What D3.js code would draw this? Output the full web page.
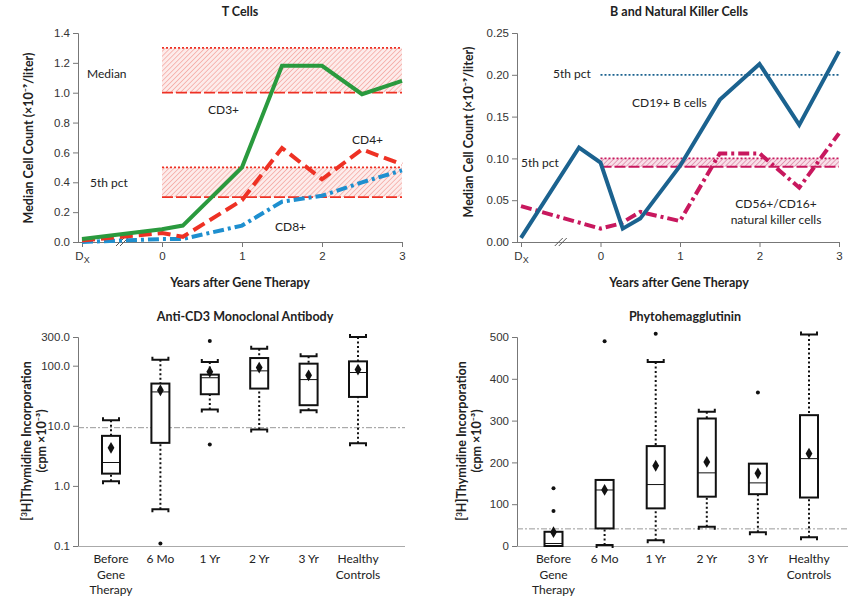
<!DOCTYPE html>
<html>
<head>
<meta charset="utf-8">
<script src="https://cdn.jsdelivr.net/npm/d3@7"></script>
<style>
  body { margin: 0; background: #fff; }
  svg { font-family: Lato, "Open Sans", sans-serif; }
  .title { font-weight: bold; font-size: 12.5px; fill: #222; }
  .axlabel { font-weight: bold; font-size: 12.5px; fill: #222; }
  .note { font-size: 12px; fill: #222; }
  .tick text { font-size: 11.5px; fill: #333; }
</style>
</head>
<body>
<svg id="chart" width="849" height="597"></svg>
<script>
// ---- data ----
// x in years after gene therapy, Dx (diagnosis) plotted at -1
const tYears = [-1, 0, 0.26, 1, 1.5, 2, 2.5, 3];
const cd3 = [0.02, 0.085, 0.11, 0.5, 1.18, 1.18, 0.99, 1.08];
const cd4 = [0.01, 0.06, 0.035, 0.28, 0.63, 0.42, 0.62, 0.52];
const cd8 = [0.0, 0.02, 0.02, 0.11, 0.27, 0.31, 0.40, 0.48];
const tMedianBand = [1.0, 1.3];
const t5thBand = [0.3, 0.5];

const bYears = [-1, -0.27, 0, 0.28, 0.5, 1, 1.5, 2, 2.5, 3];
const cd19 = [0.005, 0.113, 0.095, 0.016, 0.028, 0.091, 0.170, 0.213, 0.140, 0.228];
const nkYears = [-1, 0, 0.25, 0.5, 1, 1.5, 2, 2.5, 3];
const nk = [0.043, 0.016, 0.022, 0.036, 0.025, 0.106, 0.106, 0.065, 0.130];
const b5thLine = 0.20;
const nk5thBand = [0.09, 0.10];

const xTicksTop = [-1, 0, 1, 2, 3];

const boxCats = ["Before Gene Therapy", "6 Mo", "1 Yr", "2 Yr", "3 Yr", "Healthy Controls"];
const catLines = [["Before", "Gene", "Therapy"], ["6 Mo"], ["1 Yr"], ["2 Yr"], ["3 Yr"], ["Healthy", "Controls"]];

// anti-CD3: [whiskerLow, q1, median, q3, whiskerHigh]
const cd3Box = [
  [1.2, 1.6, 2.45, 6.8, 12.4],
  [0.41, 5.2, 36.6, 50.4, 126],
  [18.6, 33.5, 63, 71, 115],
  [8.7, 41.6, 82, 134, 192],
  [18.2, 22, 58.7, 108, 143],
  [5.1, 30.2, 77, 118, 300]
];
const cd3Mean = [4.3, 39, 79, 93, 69, 86];
const cd3Out = [[], [0.11], [257, 4.9], [], [], []];
const cd3Ref = 9.3;
const cd3Ticks = [0.1, 1, 10, 100, 300];

// phytohemagglutinin
const phaBox = [
  [0, 0, 6, 34, 34],
  [2.5, 42, 134, 158, 158],
  [14, 90, 147, 239, 440],
  [46, 118, 175, 305, 321],
  [33, 124, 151, 197, 197],
  [21, 116, 209, 313, 506]
];
const phaMean = [33, 134, 192, 201, 174, 221];
const phaOut = [[138, 84], [490], [508], [], [367], []];
const phaRef = 41;
const phaTicks = [0, 100, 200, 300, 400, 500];

// ---- colours ----
const GREEN = "#2a9a3e", RED = "#ee3124", CD8BLUE = "#1e8fcf";
const BBLUE = "#1b628f", NKPINK = "#c8185e";

const svg = d3.select("#chart");
const defs = svg.append("defs");

function hatch(id, bg, fg) {
  const p = defs.append("pattern")
    .attr("id", id)
    .attr("width", 3.5).attr("height", 3.5)
    .attr("patternUnits", "userSpaceOnUse")
    .attr("patternTransform", "rotate(45)");
  p.append("rect").attr("width", 3.5).attr("height", 3.5).attr("fill", bg);
  p.append("line").attr("x1", 0).attr("y1", 0).attr("x2", 0).attr("y2", 3.5)
    .attr("stroke", fg).attr("stroke-width", 1.4);
}
hatch("hatchRed", "#fdeceb", "#f3a29c");
hatch("hatchPink", "#f8e0e9", "#dd7ea1");

function styleAxis(g) {
  g.selectAll(".domain").attr("stroke", "#777").attr("stroke-width", 1);
  g.selectAll(".tick line").attr("stroke", "#777");
}

function yLabel(x, y, text) {
  svg.append("text").attr("class", "axlabel")
    .attr("transform", "translate(" + x + "," + y + ") rotate(-90)")
    .attr("text-anchor", "middle").text(text);
}

// ---- top line panels ----
function linePanel(opt) {
  const x = d3.scaleLinear().domain([-1, 3]).range(opt.xr);
  const y = d3.scaleLinear().domain(opt.yd).range([242, 33]);

  // y axis
  const ya = svg.append("g").attr("class", "y axis")
    .attr("transform", "translate(" + opt.axisX + ",0)")
    .call(d3.axisLeft(y).tickValues(opt.yTicks).tickFormat(d3.format(opt.fmt)).tickSize(5).tickPadding(3));
  styleAxis(ya);

  // x axis
  const xa = svg.append("g").attr("class", "x axis")
    .attr("transform", "translate(0,242)")
    .call(d3.axisBottom(x).tickValues(xTicksTop).tickSize(5).tickPadding(5)
      .tickFormat(d => d === -1 ? "" : d));
  xa.select(".domain").attr("d", "M" + opt.axisX + ",0.5H" + opt.xr[1]);
  styleAxis(xa);
  xa.selectAll(".tick").filter(d => d === -1).select("text")
    .each(function () {
      const t = d3.select(this);
      t.append("tspan").text("D");
      t.append("tspan").attr("dy", 3).style("font-size", "9px").text("X");
    });

  // axis break marks
  const bx = x(-0.5);
  [-2, 2].forEach(o => {
    svg.append("line")
      .attr("x1", bx + o - 4).attr("y1", 246).attr("x2", bx + o + 4).attr("y2", 238)
      .attr("stroke", "#555").attr("stroke-width", 1);
  });

  svg.append("text").attr("class", "title").attr("x", opt.cx).attr("y", 16)
    .attr("text-anchor", "middle").text(opt.title);
  svg.append("text").attr("class", "axlabel").attr("x", opt.cx).attr("y", 287)
    .attr("text-anchor", "middle").text("Years after Gene Therapy");
  yLabel(opt.labelX, opt.labelY, "Median Cell Count (\u00d710\u207b\u2079/liter)");

  return { x: x, y: y };
}

function band(c, lo, hi, fill, color) {
  svg.append("rect")
    .attr("x", c.x(0)).attr("y", c.y(hi))
    .attr("width", c.x(3) - c.x(0)).attr("height", c.y(lo) - c.y(hi))
    .attr("fill", "url(#" + fill + ")");
  svg.append("line").attr("x1", c.x(0)).attr("x2", c.x(3))
    .attr("y1", c.y(hi)).attr("y2", c.y(hi))
    .attr("stroke", color).attr("stroke-width", 1.8).attr("stroke-dasharray", "2,2");
  svg.append("line").attr("x1", c.x(0)).attr("x2", c.x(3))
    .attr("y1", c.y(lo)).attr("y2", c.y(lo))
    .attr("stroke", color).attr("stroke-width", 1.8).attr("stroke-dasharray", "11,3");
}

function series(c, xs, ys, color, dash) {
  const line = d3.line().x((d, i) => c.x(xs[i])).y(d => c.y(d)).curve(d3.curveLinear);
  svg.append("path").attr("d", line(ys))
    .attr("fill", "none").attr("stroke", color).attr("stroke-width", 4)
    .attr("stroke-linejoin", "miter")
    .attr("stroke-dasharray", dash || null);
}

function note(x, y, text, anchor) {
  svg.append("text").attr("class", "note").attr("x", x).attr("y", y)
    .attr("text-anchor", anchor || "start").text(text);
}

// T cells
const tc = linePanel({
  xr: [82, 402], yd: [0, 1.4], yTicks: d3.range(0, 1.41, 0.2), fmt: ".1f",
  axisX: 78, cx: 240, title: "T Cells", labelX: 33, labelY: 138
});
band(tc, tMedianBand[0], tMedianBand[1], "hatchRed", RED);
band(tc, t5thBand[0], t5thBand[1], "hatchRed", RED);
series(tc, tYears, cd8, CD8BLUE, "11,4,3,4");
series(tc, tYears, cd4, RED, "13,6");
series(tc, tYears, cd3, GREEN);
note(87, 78, "Median");
note(90, 187, "5th pct");
note(208, 114, "CD3+");
note(352, 144, "CD4+");
note(275, 231, "CD8+");

// B and NK cells
const bc = linePanel({
  xr: [521, 839], yd: [0, 0.25], yTicks: d3.range(0, 0.251, 0.05), fmt: ".2f",
  axisX: 517, cx: 679, title: "B and Natural Killer Cells", labelX: 473, labelY: 132
});
band(bc, nk5thBand[0], nk5thBand[1], "hatchPink", NKPINK);
svg.append("line").attr("x1", bc.x(0)).attr("x2", bc.x(3))
  .attr("y1", bc.y(b5thLine)).attr("y2", bc.y(b5thLine))
  .attr("stroke", BBLUE).attr("stroke-width", 1.8).attr("stroke-dasharray", "2,2");
series(bc, nkYears, nk, NKPINK, "11,4,3,4");
series(bc, bYears, cd19, BBLUE);
note(553, 78, "5th pct");
note(521, 167, "5th pct");
note(632, 107, "CD19+ B cells");
note(776, 208, "CD56+/CD16+", "middle");
note(776, 224, "natural killer cells", "middle");

// ---- bottom box panels ----
function boxPanel(opt) {
  const x = d3.scalePoint().domain(boxCats).range(opt.xr);
  const y = opt.y;
  const bw = 18;

  const ya = svg.append("g").attr("class", "y axis")
    .attr("transform", "translate(" + opt.axisX + ",0)")
    .call(d3.axisLeft(y).tickValues(opt.ticks).tickFormat(opt.fmt).tickSize(5).tickPadding(3));
  styleAxis(ya);

  // bottom axis line
  svg.append("line").attr("x1", opt.axisX).attr("x2", opt.axisEnd)
    .attr("y1", 546.5).attr("y2", 546.5).attr("stroke", "#aaa").attr("stroke-width", 1);

  // reference line
  svg.append("line").attr("x1", opt.axisX).attr("x2", opt.axisEnd)
    .attr("y1", y(opt.ref)).attr("y2", y(opt.ref))
    .attr("stroke", "#999").attr("stroke-width", 1).attr("stroke-dasharray", "6,2,2,2");

  opt.box.forEach((b, i) => {
    const cx = x(boxCats[i]);
    const g = svg.append("g");
    // whiskers
    [[b[0], b[1], 1], [b[4], b[3], -1]].forEach(w => {
      if (Math.abs(y(w[0]) - y(w[1])) < 1) return;
      g.append("line").attr("x1", cx).attr("x2", cx)
        .attr("y1", y(w[0])).attr("y2", y(w[1]))
        .attr("stroke", "#111").attr("stroke-width", 2).attr("stroke-dasharray", "2,2.5");
      const cy = y(w[0]);
      g.append("path")
        .attr("d", "M" + (cx - 8) + "," + (cy + 3 * w[2]) + "V" + cy + "H" + (cx + 8) + "V" + (cy + 3 * w[2]))
        .attr("fill", "none").attr("stroke", "#111").attr("stroke-width", 2);
    });
    // box
    g.append("rect").attr("x", cx - bw / 2).attr("y", y(b[3]))
      .attr("width", bw).attr("height", y(b[1]) - y(b[3]))
      .attr("fill", "#fff").attr("stroke", "#111").attr("stroke-width", 2);
    g.append("line").attr("x1", cx - bw / 2).attr("x2", cx + bw / 2)
      .attr("y1", y(b[2])).attr("y2", y(b[2]))
      .attr("stroke", "#111").attr("stroke-width", 1);
    // mean diamond
    g.append("path").attr("d", d3.symbol().type(d3.symbolDiamond).size(40)())
      .attr("transform", "translate(" + cx + "," + y(opt.mean[i]) + ")").attr("fill", "#111");
    // outliers
    opt.out[i].forEach(v => {
      g.append("circle").attr("cx", cx).attr("cy", y(v)).attr("r", 2).attr("fill", "#111");
    });
    // category label
    catLines[i].forEach((s, k) => {
      svg.append("text").attr("class", "note").attr("x", cx).attr("y", 563 + k * 15.5)
        .attr("text-anchor", "middle").text(s);
    });
  });

  svg.append("text").attr("class", "title").attr("x", opt.cx).attr("y", 321)
    .attr("text-anchor", "middle").text(opt.title);
  svg.append("text").attr("class", "axlabel")
    .attr("transform", "translate(" + opt.labelX + ",441) rotate(-90)")
    .attr("text-anchor", "middle")
    .call(t => {
      t.append("tspan").text("[");
      t.append("tspan").attr("dy", -4).style("font-size", "8px").text("3");
      t.append("tspan").attr("dy", 4).text("H]Thymidine Incorporation");
    });
  svg.append("text").attr("class", "axlabel")
    .attr("transform", "translate(" + (opt.labelX + 15) + ",441) rotate(-90)")
    .attr("text-anchor", "middle").text("(cpm \u00d710\u207b\u00b3)");
}

boxPanel({
  xr: [111, 358], axisX: 78, axisEnd: 405, cx: 245, labelX: 31,
  title: "Anti-CD3 Monoclonal Antibody",
  y: d3.scaleLog().domain([0.1, 300]).range([546, 337]),
  ticks: cd3Ticks, fmt: d3.format(".1f"),
  box: cd3Box, mean: cd3Mean, out: cd3Out, ref: cd3Ref
});

boxPanel({
  xr: [553.5, 809], axisX: 517, axisEnd: 848, cx: 685, labelX: 466,
  title: "Phytohemagglutinin",
  y: d3.scaleLinear().domain([0, 500]).range([546, 337]),
  ticks: phaTicks, fmt: d3.format("d"),
  box: phaBox, mean: phaMean, out: phaOut, ref: phaRef
});
</script>
</body>
</html>
